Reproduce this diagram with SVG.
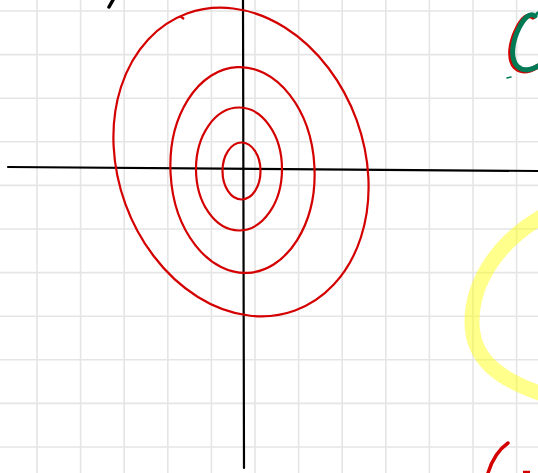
<svg xmlns="http://www.w3.org/2000/svg" width="538" height="473" viewBox="0 0 538 473">
<style>
.grid line{stroke:#e5e5e5;stroke-width:1.6}
.axis{stroke:#000;stroke-width:2.2;fill:none;stroke-linecap:round}
.curve{stroke:#d40000;stroke-width:2.2;fill:none}
</style>
<rect width="538" height="473" fill="#fff"/>
<g class="grid">
<line x1="37" y1="0" x2="37" y2="473"/>
<line x1="80.6" y1="0" x2="80.6" y2="473"/>
<line x1="124.2" y1="0" x2="124.2" y2="473"/>
<line x1="167.8" y1="0" x2="167.8" y2="473"/>
<line x1="211.4" y1="0" x2="211.4" y2="473"/>
<line x1="255" y1="0" x2="255" y2="473"/>
<line x1="298.6" y1="0" x2="298.6" y2="473"/>
<line x1="342.2" y1="0" x2="342.2" y2="473"/>
<line x1="385.8" y1="0" x2="385.8" y2="473"/>
<line x1="429.4" y1="0" x2="429.4" y2="473"/>
<line x1="473" y1="0" x2="473" y2="473"/>
<line x1="516.6" y1="0" x2="516.6" y2="473"/>
<line x1="0" y1="11" x2="538" y2="11"/>
<line x1="0" y1="54.6" x2="538" y2="54.6"/>
<line x1="0" y1="98.2" x2="538" y2="98.2"/>
<line x1="0" y1="141.8" x2="538" y2="141.8"/>
<line x1="0" y1="185.4" x2="538" y2="185.4"/>
<line x1="0" y1="229" x2="538" y2="229"/>
<line x1="0" y1="272.6" x2="538" y2="272.6"/>
<line x1="0" y1="316.2" x2="538" y2="316.2"/>
<line x1="0" y1="359.8" x2="538" y2="359.8"/>
<line x1="0" y1="403.4" x2="538" y2="403.4"/>
<line x1="0" y1="447" x2="538" y2="447"/>
</g>
<g id="highlight">
<path d="M 545 215 C 500 240, 472 280, 472 322 C 472 360, 500 380, 545 395" fill="none" stroke="#ffff00" stroke-opacity="0.45" stroke-width="15"/>
</g>
<g id="axes">
<path class="axis" d="M 8 167 L 538 171"/>
<path class="axis" d="M 243 0 L 244 468"/>
</g>
<g id="contours">
<ellipse class="curve" cx="241.5" cy="171" rx="19" ry="28.5"/>
<ellipse class="curve" cx="239" cy="169" rx="43" ry="61.5"/>
<ellipse class="curve" cx="242.5" cy="170" rx="72" ry="103" transform="rotate(-3 242.5 170)"/>
<ellipse class="curve" cx="241" cy="162" rx="123" ry="158" transform="rotate(-20 241 162)"/>
<path class="curve" d="M 180 16 L 184 19" stroke-width="2.5"/>
</g>
<g id="marks">
<path d="M 113 0 L 109 7" stroke="#000" stroke-width="3.5" stroke-linecap="round" fill="none"/>
<path d="M 535 16 C 530 12, 524 18, 519 28 C 512 42, 510 58, 517 66 C 523 72, 532 70, 540 65" fill="none" stroke="#d40000" stroke-width="5" stroke-linecap="round" transform="translate(-2 1)"/>
<path d="M 535 16 C 530 12, 524 18, 519 28 C 512 42, 510 58, 517 66 C 523 72, 532 70, 540 65" fill="none" stroke="#007a55" stroke-width="5" stroke-linecap="round"/>
<path d="M 536 14 L 540 12" stroke="#007a55" stroke-width="3" fill="none"/>
<path d="M 507 78 L 511 77" stroke="#007a55" stroke-width="1.5" fill="none" stroke-linecap="round"/>
<path d="M 508 443 C 498 450, 492 460, 488 473" fill="none" stroke="#d40000" stroke-width="3.5" stroke-linecap="round"/>
<path d="M 523 472 L 530 472" stroke="#d40000" stroke-width="2.5" fill="none"/>
</g>
</svg>
